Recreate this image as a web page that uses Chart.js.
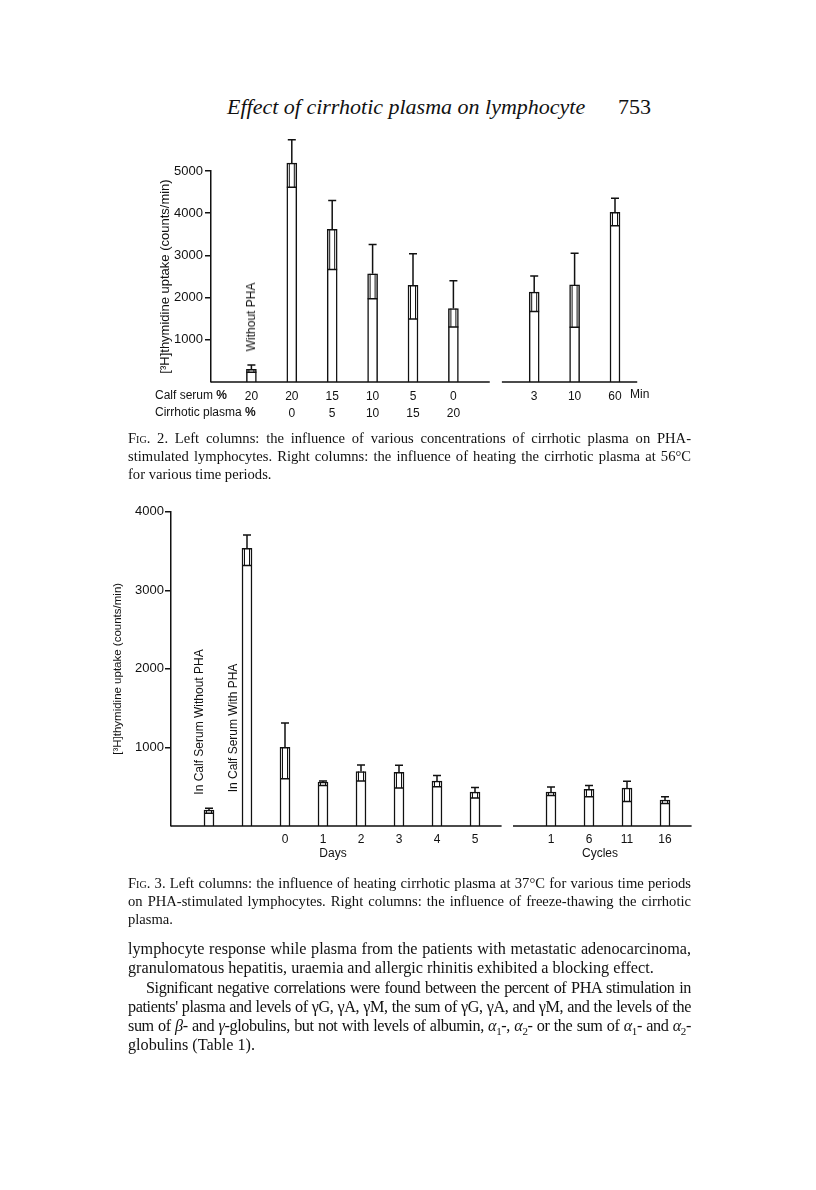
<!DOCTYPE html>
<html>
<head>
<meta charset="utf-8">
<script src="https://cdn.jsdelivr.net/npm/chart.js@4.4.1/dist/chart.umd.min.js"></script>
<style>
  body { margin: 0; background: #fff; }
  #page { position: relative; width: 816px; height: 1190px; overflow: hidden;
          font-family: "Liberation Serif", serif; color: #111; }
  .abs { position: absolute; white-space: nowrap; }
  .sans { font-family: "Liberation Sans", sans-serif; font-size: 12px; color: #111; }
  .rot { transform: translate(-50%, -50%) rotate(-90deg); }
  .ctr { transform: translate(-50%, -50%); }
  .cap { position: absolute; left: 128px; width: 563px; font-size: 14.6px; line-height: 18px; }
  .body { position: absolute; left: 128px; width: 563px; font-size: 16.2px; line-height: 19.3px; }
  .cap div, .body div { white-space: nowrap; }
  .j { text-align: justify; text-align-last: justify; }
  .tight { letter-spacing: -0.4px; }
  .sc { font-variant: small-caps; }
  sub { font-size: 11px; line-height: 0; }
  canvas { position: absolute; }
</style>
</head>
<body>
<div id="page">
  <div class="abs" style="left:227px;top:96px;font-size:22px;line-height:22px;font-style:italic;">Effect of cirrhotic plasma on lymphocyte</div>
  <div class="abs" style="left:618px;top:96px;font-size:22px;line-height:22px;">753</div>

  <canvas id="fig2" width="600" height="300" style="left:100px;top:130px;"></canvas>
  <div class="abs sans rot" style="left:251px;top:317px;">Without PHA</div>
  <div class="abs sans" style="left:155px;top:388px;">Calf serum <b>%</b></div>
  <div class="abs sans" style="left:155px;top:405px;">Cirrhotic plasma <b>%</b></div>

  <div class="cap" style="top:429px;">
    <div class="j"><span class="sc">Fig</span>. 2. Left columns: the influence of various concentrations of cirrhotic plasma on PHA-</div>
    <div class="j">stimulated lymphocytes. Right columns: the influence of heating the cirrhotic plasma at 56°C</div>
    <div>for various time periods.</div>
  </div>

  <canvas id="fig3" width="640" height="400" style="left:90px;top:480px;"></canvas>
  <div class="abs sans rot" style="left:199px;top:722px;">In Calf Serum Without PHA</div>
  <div class="abs sans rot" style="left:233px;top:728px;">In Calf Serum With PHA</div>
  <div class="abs sans ctr" style="left:333px;top:853px;">Days</div>
  <div class="abs sans ctr" style="left:600px;top:853px;">Cycles</div>

  <div class="cap" style="top:874px;">
    <div class="j"><span class="sc">Fig</span>. 3. Left columns: the influence of heating cirrhotic plasma at 37°C for various time periods</div>
    <div class="j">on PHA-stimulated lymphocytes. Right columns: the influence of freeze-thawing the cirrhotic</div>
    <div>plasma.</div>
  </div>

  <div class="body" style="top:940px;">
    <div class="j">lymphocyte response while plasma from the patients with metastatic adenocarcinoma,</div>
    <div>granulomatous hepatitis, uraemia and allergic rhinitis exhibited a blocking effect.</div>
    <div class="j tight" style="text-indent:18px;">Significant negative correlations were found between the percent of PHA stimulation in</div>
    <div class="j tight">patients' plasma and levels of γG, γA, γM, the sum of γG, γA, and γM, and the levels of the</div>
    <div class="j tight">sum of <i>β</i>- and <i>γ</i>-globulins, but not with levels of albumin, <i>α</i><sub>1</sub>-, <i>α</i><sub>2</sub>- or the sum of <i>α</i><sub>1</sub>- and <i>α</i><sub>2</sub>-</div>
    <div>globulins (Table 1).</div>
  </div>
</div>

<script>
// Fig. 2 — concentrations (left) and heating at 56°C (right)
const calfSerum = ['20', '20', '15', '10', '5', '0'];
const cirrhoticPlasma = ['', '0', '5', '10', '15', '20'];
const concMean  = [300, 5185, 3618, 2565, 2288, 1741];
const concUpper = [400, 5740, 4300, 3260, 3040, 2400];
const concLower = [230, 4615, 2668, 1970, 1490, 1306];
const heatMinutes = ['3', '10', '60'];
const heatMean  = [2130, 2300, 4020];
const heatUpper = [2510, 3050, 4355];
const heatLower = [1670, 1300, 3700];
const fig2Ticks = [1000, 2000, 3000, 4000, 5000];

// Fig. 3 — heating at 37°C (left) and freeze-thawing (right)
const days = ['', '', '0', '1', '2', '3', '4', '5'];
const daysMean  = [202, 3533, 1000, 558, 694, 682, 571, 431];
const daysUpper = [227, 3703, 1310, 574, 777, 773, 644, 491];
const daysLower = [161, 3316, 600, 516, 574, 484, 500, 355];
const cycles = ['1', '6', '11', '16'];
const cyclesMean  = [431, 466, 482, 329];
const cyclesUpper = [495, 517, 568, 372];
const cyclesLower = [389, 372, 313, 287];
const fig3Ticks = [1000, 2000, 3000, 4000];

const SANS = '"Liberation Sans", sans-serif';
const INK = '#111';

// pad: empty slot at the axis, a gap slot between groups, empty slot at the end
function pad(left, right) { return [null, ...left, null, ...right, null]; }

const errorBars = {
  id: 'errorBars',
  afterDatasetsDraw(chart, args, opts) {
    const { ctx } = chart;
    const x = chart.scales.x, y = chart.scales.y;
    const meta = chart.getDatasetMeta(0);
    ctx.save();
    ctx.strokeStyle = INK;
    ctx.lineWidth = 1.5;
    meta.data.forEach((bar, i) => {
      const m = opts.mean[i];
      if (m == null) return;
      const cx = bar.x, half = bar.width / 2;
      const yTop = y.getPixelForValue(m);
      const yUp = y.getPixelForValue(opts.upper[i]);
      const yLo = y.getPixelForValue(opts.lower[i]);
      ctx.beginPath();
      ctx.moveTo(cx, yTop); ctx.lineTo(cx, yUp);
      ctx.moveTo(cx - 4, yUp); ctx.lineTo(cx + 4, yUp);
      ctx.moveTo(cx - half, yLo); ctx.lineTo(cx + half, yLo);
      ctx.stroke();
      ctx.lineWidth = 1;
      ctx.beginPath();
      ctx.moveTo(cx - half + 2.5, yTop); ctx.lineTo(cx - half + 2.5, yLo);
      ctx.moveTo(cx + half - 2.5, yTop); ctx.lineTo(cx + half - 2.5, yLo);
      ctx.stroke();
      ctx.lineWidth = 1.5;
    });
    // broken baseline, one piece per group
    const y0 = y.getPixelForValue(0);
    const slot = x.getPixelForValue(1) - x.getPixelForValue(0);
    ctx.beginPath();
    opts.segments.forEach(([a, b]) => {
      ctx.moveTo(x.left + a * slot, y0);
      ctx.lineTo(x.left + b * slot, y0);
    });
    ctx.stroke();
    if (opts.unit) {
      ctx.fillStyle = INK;
      ctx.font = '12px ' + SANS;
      ctx.textBaseline = 'middle';
      ctx.fillText(opts.unit, x.getPixelForValue(opts.unitAt) + 15, y0 + 13);
    }
    ctx.restore();
  }
};

function makeChart(id, labels, mean, upper, lower, ticks, yMax, o) {
  return new Chart(document.getElementById(id), {
    type: 'bar',
    data: {
      labels: labels,
      datasets: [{
        data: mean,
        backgroundColor: '#fff',
        borderColor: INK,
        borderWidth: 1.5,
        barThickness: 10,
        clip: false
      }]
    },
    options: {
      responsive: false,
      animation: false,
      events: [],
      layout: { padding: o.padding },
      plugins: {
        legend: { display: false },
        tooltip: { enabled: false },
        errorBars: { mean, upper, lower, segments: o.segments, unit: o.unit, unitAt: o.unitAt }
      },
      scales: {
        x: {
          offset: false,
          grid: { display: false },
          border: { display: false },
          ticks: {
            autoSkip: false, maxRotation: 0, padding: o.xPad, color: INK,
            font: { family: SANS, size: 12, lineHeight: 1.42 }
          },
          afterFit: s => { s.height = o.xHeight; }
        },
        y: {
          min: 0, max: yMax,
          afterBuildTicks: s => { s.ticks = ticks.map(v => ({ value: v })); },
          grid: { drawOnChartArea: false, drawTicks: true, tickLength: 6, color: INK, lineWidth: 1.5 },
          border: { display: true, color: INK, width: 1.5 },
          ticks: { padding: o.yPad, color: INK, font: { family: SANS, size: 13 }, callback: v => String(v) },
          title: {
            display: true, text: '[³H]thymidine uptake (counts/min)', color: INK,
            padding: 0, font: { family: SANS, size: o.titleSize }
          },
          afterFit: s => { s.width = o.yWidth; }
        }
      }
    },
    plugins: [errorBars]
  });
}

const fig2Labels = pad(calfSerum.map((c, i) => [c, cirrhoticPlasma[i]]), heatMinutes).map(l => l == null ? '' : l);
makeChart('fig2', fig2Labels,
  pad(concMean, heatMean), pad(concUpper, heatUpper), pad(concLower, heatLower),
  fig2Ticks, 5000, {
    padding: { left: 58, top: 41, right: 44.6, bottom: 0 },
    yWidth: 53, xHeight: 48, xPad: -1.5, yPad: 2, titleSize: 13,
    segments: [[0, 6.9], [7.2, 10.55]], unit: 'Min', unitAt: 10
  });

const fig3Labels = pad(days, cycles).map(l => l == null ? '' : l);
makeChart('fig3', fig3Labels,
  pad(daysMean, cyclesMean), pad(daysUpper, cyclesUpper), pad(daysLower, cyclesLower),
  fig3Ticks, 4000, {
    padding: { left: 21, top: 31.7, right: 27, bottom: 0 },
    yWidth: 60, xHeight: 54, xPad: -3, yPad: 1, titleSize: 11.5,
    segments: [[0, 8.7], [9.0, 13.7]]
  });
</script>
</body>
</html>
